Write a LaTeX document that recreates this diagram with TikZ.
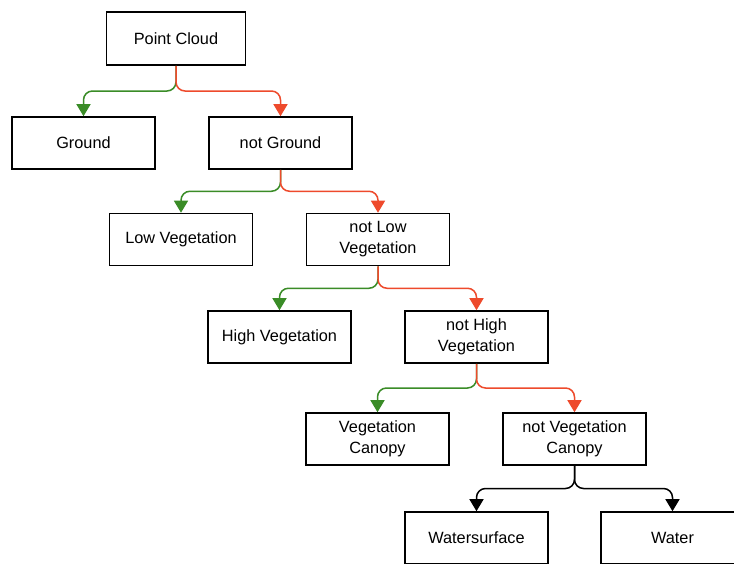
\documentclass[tikz,border=0pt]{standalone}
\usepackage{fontspec}
\setmainfont{Liberation Sans}
\usetikzlibrary{arrows.meta,calc}
\definecolor{yesgreen}{HTML}{3A8C27}
\definecolor{nored}{HTML}{EE4A2C}
\begin{document}
\begin{tikzpicture}[x=1pt,y=-1pt,
  box/.style={draw=black,line width=1.6pt,minimum width=143pt,minimum height=52pt,inner sep=0pt,align=center,font=\fontsize{16.3}{21}\selectfont},
  edge/.style={line width=1.5pt,rounded corners=9pt,-{Triangle[width=14pt,length=12pt]}},
  gedge/.style={edge,draw=yesgreen},
  redge/.style={edge,draw=nored},
  kedge/.style={edge,draw=black}]
\useasboundingbox (0,0) rectangle (734,563);
\clip (0,0) rectangle (734,563);
\fill[white] (0,0) rectangle (734,563);
\node[box,minimum width=139pt,minimum height=53pt] (pc) at (176,38.5) {Point Cloud};
\node[box] (gr) at (83.5,143) {Ground};
\node[box] (ngr) at (280.5,143) {not Ground};
\node[box] (lv) at (181,239.5) {Low Vegetation};
\node[box] (nlv) at (378,239.5) {not Low\\Vegetation};
\node[box] (hv) at (279.5,337) {High Vegetation};
\node[box] (nhv) at (476.5,337) {not High\\Vegetation};
\node[box] (vc) at (377.5,439) {Vegetation\\Canopy};
\node[box] (nvc) at (574.5,439) {not Vegetation\\Canopy};
\node[box] (ws) at (476.5,538) {Watersurface};
\node[box] (wa) at (672.5,538) {Water};
\foreach \p/\y/\c in {pc/gr/gedge,pc/ngr/redge,ngr/lv/gedge,ngr/nlv/redge,nlv/hv/gedge,nlv/nhv/redge,nhv/vc/gedge,nhv/nvc/redge,nvc/ws/kedge,nvc/wa/kedge}{
  \draw[\c] (\p.south) |- ($(\p.south)!0.5!(\y.north)$) -| (\y.north);
}
\end{tikzpicture}
\end{document}
